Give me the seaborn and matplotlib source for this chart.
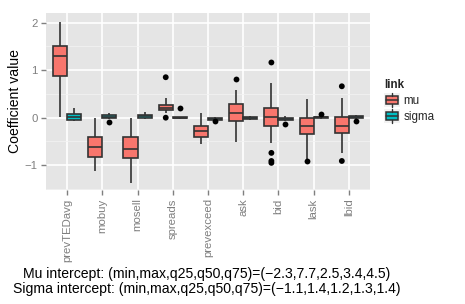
import numpy as np
import pandas as pd
import matplotlib
matplotlib.use("Agg")
import matplotlib.pyplot as plt
import seaborn as sns
from matplotlib.patches import Rectangle, Patch
from matplotlib.lines import Line2D
from matplotlib.legend_handler import HandlerBase
from matplotlib.ticker import MultipleLocator

# ---- data (box stats: whisker low, q25, median, q75, whisker high) ----
categories = ["prevTEDavg", "mobuy", "mosell", "spreads", "prevexceed",
              "ask", "bid", "lask", "lbid"]
links = ["mu", "sigma"]

mu_stats = [
    (0.02, 0.88, 1.29, 1.51, 2.02),
    (-1.13, -0.83, -0.62, -0.41, 0.00),
    (-1.37, -0.85, -0.66, -0.41, 0.00),
    (0.10, 0.16, 0.21, 0.27, 0.42),
    (-0.56, -0.40, -0.28, -0.17, 0.09),
    (-0.52, -0.08, 0.09, 0.28, 0.58),
    (-0.54, -0.17, 0.01, 0.21, 0.72),
    (-0.86, -0.35, -0.17, -0.01, 0.39),
    (-0.75, -0.33, -0.17, 0.02, 0.41),
]
sigma_stats = [
    (-0.08, -0.05, 0.01, 0.07, 0.21),
    (-0.03, -0.01, 0.02, 0.05, 0.10),
    (-0.03, 0.00, 0.03, 0.05, 0.11),
    (-0.02, -0.01, 0.00, 0.01, 0.02),
    (-0.06, -0.04, -0.02, -0.01, 0.01),
    (-0.05, -0.03, -0.01, 0.01, 0.03),
    (-0.07, -0.04, -0.02, 0.00, 0.04),
    (-0.02, 0.00, 0.01, 0.02, 0.04),
    (-0.03, -0.01, 0.01, 0.03, 0.06),
]
mu_outliers = [
    [], [], [], [0.85, 0.00], [], [0.81],
    [1.16, -0.74, -0.91, -0.95], [-0.92], [0.66, -0.91],
]
sigma_outliers = [
    [], [-0.10], [], [0.20], [-0.08], [], [-0.14], [0.07], [-0.08],
]

caption_lines = [
    "Mu intercept: (min,max,q25,q50,q75)=(\u22122.3,7.7,2.5,3.4,4.5)",
    "Sigma intercept: (min,max,q25,q50,q75)=(\u22121.1,1.4,1.2,1.3,1.4)",
]

colors = {"mu": "#F8766D", "sigma": "#00BFC4"}
edge = "#333333"

# ---- build tables ----
box_rows = []
for link, stats in (("mu", mu_stats), ("sigma", sigma_stats)):
    for cat, s in zip(categories, stats):
        for v in s:
            box_rows.append((cat, link, v))
box_df = pd.DataFrame(box_rows, columns=["variable", "link", "value"])

out_rows = []
for link, outs in (("mu", mu_outliers), ("sigma", sigma_outliers)):
    for cat, o in zip(categories, outs):
        for v in o:
            out_rows.append((cat, link, v))
out_df = pd.DataFrame(out_rows, columns=["variable", "link", "value"])

# ---- style ----
sns.set_theme(style="white")
plt.rcParams["font.family"] = ["Liberation Sans", "DejaVu Sans"]

fig = plt.figure(figsize=(4.65, 3.04), dpi=100)
ax = fig.add_axes([46 / 465, 1 - 190 / 304, (370 - 46) / 465, (190 - 13) / 304])
ax.set_facecolor("#E5E5E5")

sns.boxplot(data=box_df, x="variable", y="value", hue="link",
            order=categories, hue_order=links, palette=colors, saturation=1,
            whis=(0, 100), showfliers=False, showcaps=False, width=0.8, gap=0,
            linecolor=edge, linewidth=1.2, legend=False, ax=ax, zorder=3)
sns.stripplot(data=out_df, x="variable", y="value", hue="link",
              order=categories, hue_order=links,
              palette={"mu": "black", "sigma": "black"},
              dodge=True, jitter=False, size=4.2, legend=False, ax=ax, zorder=4)

ax.set_xlim(-0.6, len(categories) - 0.4)
ax.set_ylim(-1.52, 2.2)
ax.set_yticks([-1, 0, 1, 2])
ax.yaxis.set_minor_locator(MultipleLocator(0.5))
ax.grid(True, which="major", color="white", lw=1.2, zorder=0)
ax.grid(True, which="minor", axis="y", color="#F2F2F2", lw=0.6, zorder=0)
ax.set_axisbelow(True)
for sp in ax.spines.values():
    sp.set_visible(False)

ax.tick_params(axis="both", which="major", length=3.5, width=1,
               color="#7F7F7F", labelcolor="#7F7F7F", labelsize=8.2,
               pad=2.5, bottom=True, left=True)
ax.tick_params(axis="y", which="minor", length=0)
ax.set_xticks(range(len(categories)))
ax.set_xticklabels(categories, rotation=90)
ax.set_xlabel("")
ax.set_ylabel("Coefficient value", fontsize=10.1, color="black", labelpad=2)


# ---- legend with boxplot glyphs ----
class BoxHandler(HandlerBase):
    def create_artists(self, legend, orig_handle, xdescent, ydescent,
                       width, height, fontsize, trans):
        fc = orig_handle.get_facecolor()
        x0, y0 = -xdescent, -ydescent
        bg = Rectangle((x0, y0), width, height, fc="#F2F2F2", ec="none",
                       transform=trans)
        bx = Rectangle((x0 + 0.1 * width, y0 + 0.2 * height), 0.8 * width,
                       0.6 * height, fc=fc, ec=edge, lw=1.1, transform=trans)
        cx = x0 + width / 2
        med = Line2D([x0 + 0.1 * width, x0 + 0.9 * width],
                     [y0 + height / 2] * 2, color=edge, lw=1.1, transform=trans)
        w1 = Line2D([cx, cx], [y0 + 0.8 * height, y0 + height], color=edge,
                    lw=1.0, transform=trans)
        w2 = Line2D([cx, cx], [y0, y0 + 0.2 * height], color=edge,
                    lw=1.0, transform=trans)
        return [bg, bx, med, w1, w2]


handles = [Patch(facecolor=colors[l], label=l) for l in links]
leg = fig.legend(handles=handles, labels=links, title="link",
                 handler_map={Patch: BoxHandler()},
                 loc="center left", bbox_to_anchor=(384 / 465, 1 - 101 / 304),
                 frameon=False, fontsize=8.4, title_fontsize=8.4,
                 handlelength=1.35, handleheight=1.4, handletextpad=0.3,
                 labelspacing=0.2, borderpad=0.0, borderaxespad=0.0)
leg.get_title().set_fontweight("bold")
leg._legend_box.align = "left"

# ---- caption ----
fig.text(207 / 465, 1 - 274 / 304, caption_lines[0], ha="center", va="center",
         fontsize=10.1, color="black")
fig.text(207 / 465, 1 - 289 / 304, caption_lines[1], ha="center", va="center",
         fontsize=10.1, color="black")

fig.savefig("out.png", dpi=100)
